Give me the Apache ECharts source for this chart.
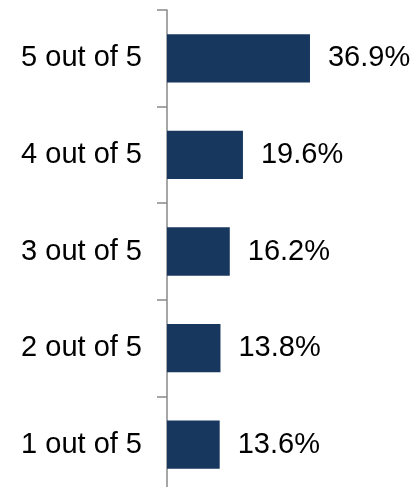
<!DOCTYPE html>
<html>
<head>
<meta charset="utf-8">
<script src="https://cdn.jsdelivr.net/npm/echarts@6/dist/echarts.min.js"></script>
<style>
  html, body { margin: 0; padding: 0; background: #fff; overflow: hidden; }
  /* the plot runs a few pixels past the bottom of the window, as in the original */
  #chart { width: 416px; height: 493px; }
</style>
</head>
<body>
<div id="chart"></div>
<script>
// categories bottom -> top
const categories = ['1 out of 5', '2 out of 5', '3 out of 5', '4 out of 5', '5 out of 5'];
const shares = [13.6, 13.8, 16.2, 19.6, 36.9];

const chart = echarts.init(document.getElementById('chart'));
const option = {
  animation: false,
  textStyle: { fontFamily: 'Liberation Sans, Arial, sans-serif' },
  grid: { left: 167, right: 94, top: 10, bottom: 0, containLabel: false },
  xAxis: {
    type: 'value',
    min: 0,
    max: 40,
    show: false
  },
  yAxis: {
    type: 'category',
    data: categories,
    axisLine: { show: true, lineStyle: { color: '#898989', width: 1.5 } },
    axisTick: { show: true, length: 10, lineStyle: { color: '#898989', width: 1.5 } },
    axisLabel: { color: '#000', fontSize: 29, margin: 25 }
  },
  series: [{
    type: 'bar',
    data: shares,
    barWidth: '50%',
    itemStyle: { color: '#17375e' },
    label: {
      show: true,
      position: 'right',
      distance: 18,
      color: '#000',
      fontSize: 29,
      formatter: '{c}%'
    }
  }]
};
chart.setOption(option);
</script>
</body>
</html>
